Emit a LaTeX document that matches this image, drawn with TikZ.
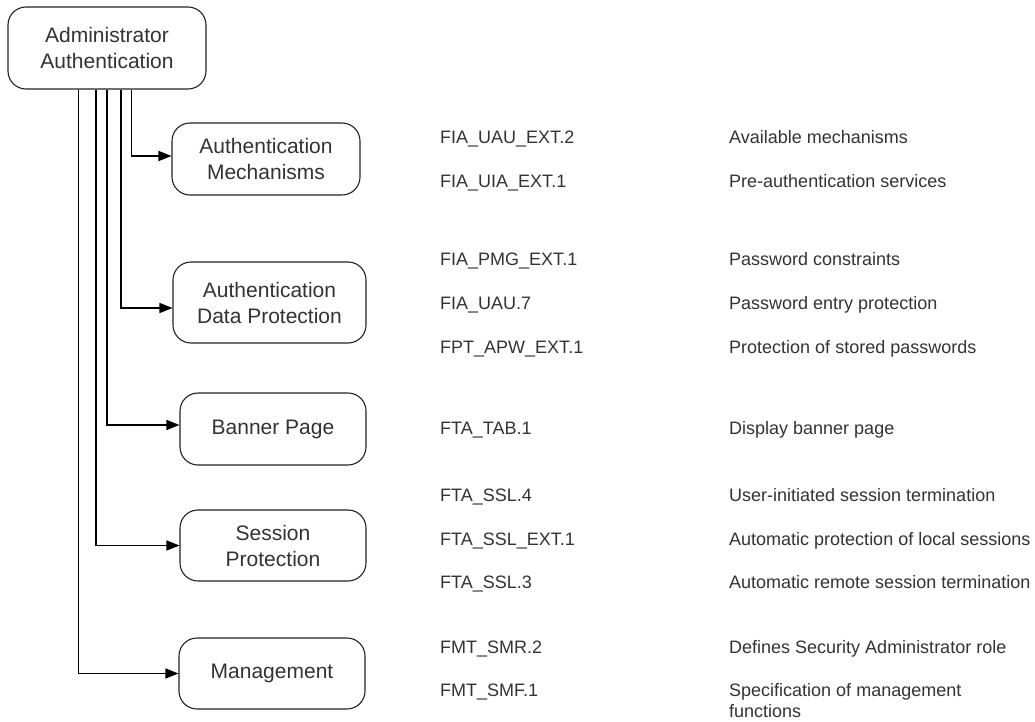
\documentclass[tikz,border=0pt]{standalone}
\usepackage{fontspec}
\setmainfont{Liberation Sans}
\usetikzlibrary{arrows.meta}
\definecolor{txt}{HTML}{333333}
\definecolor{bord}{HTML}{222222}
\tikzset{
  boxnode/.style={draw=bord, line width=1.1pt, rounded corners=18pt, align=center,
    text=txt, font=\fontsize{21}{26}\selectfont, inner sep=0pt},
  conn/.style={draw=black, line width=1.3pt, -{Triangle[length=13pt,width=10pt]}},
  code/.style={anchor=base west, inner sep=0pt, text=txt, font=\fontsize{18}{21}\selectfont},
  desc/.style={anchor=base west, inner sep=0pt, text=txt, font=\fontsize{18}{21}\selectfont}
}
\begin{document}
\begin{tikzpicture}[x=1pt,y=-1pt]
\useasboundingbox[fill=white] (0,0) rectangle (1035,722);
% boxes
\node[boxnode, minimum width=198pt, minimum height=82pt] (root) at (107,48) {Administrator\\Authentication};
\node[boxnode, minimum width=188pt, minimum height=72pt] (am) at (266,159) {Authentication\\Mechanisms};
\node[boxnode, minimum width=193pt, minimum height=81pt] (adp) at (269.5,302.5) {Authentication\\Data Protection};
\node[boxnode, minimum width=186pt, minimum height=72pt] (bp) at (273,429) {Banner Page};
\node[boxnode, minimum width=186pt, minimum height=71pt] (sp) at (273,545.5) {Session\\Protection};
\node[boxnode, minimum width=186pt, minimum height=71pt] (mg) at (272,673.5) {Management};
% connectors
\draw[conn] ([xshift=24.5pt]root.south) |- ([yshift=3pt]am.west);
\draw[conn] ([xshift=14pt]root.south) |- ([yshift=-5.5pt]adp.west);
\draw[conn] ([xshift=0pt]root.south) |- ([yshift=4pt]bp.west);
\draw[conn] ([xshift=-11pt]root.south) |- (sp.west);
\draw[conn] ([xshift=-28.5pt]root.south) |- (mg.west);
% codes
\node[code] (c1) at (440,143.5) {FIA\_UAU\_EXT.2};
\node[code] (c2) at (440,187.5) {FIA\_UIA\_EXT.1};
\node[code] (c3) at (440,265.5) {FIA\_PMG\_EXT.1};
\node[code] (c4) at (440,309.5) {FIA\_UAU.7};
\node[code] (c5) at (440,353.5) {FPT\_APW\_EXT.1};
\node[code] (c6) at (440,434.5) {FTA\_TAB.1};
\node[code] (c7) at (440,501.5) {FTA\_SSL.4};
\node[code] (c8) at (440,545.5) {FTA\_SSL\_EXT.1};
\node[code] (c9) at (440,588.5) {FTA\_SSL.3};
\node[code] (c10) at (440,653.5) {FMT\_SMR.2};
\node[code] (c11) at (440,696.5) {FMT\_SMF.1};
% descriptions
\node[desc] (d1) at (729,143.5) {Available mechanisms};
\node[desc] (d2) at (729,187.5) {Pre-authentication services};
\node[desc] (d3) at (729,265.5) {Password constraints};
\node[desc] (d4) at (729,309.5) {Password entry protection};
\node[desc] (d5) at (729,353.5) {Protection of stored passwords};
\node[desc] (d6) at (729,434.5) {Display banner page};
\node[desc] (d7) at (729,501.5) {User-initiated session termination};
\node[desc] (d8) at (729,545.5) {Automatic protection of local sessions};
\node[desc] (d9) at (729,588.5) {Automatic remote session termination};
\node[desc] (d10) at (729,653.5) {Defines Security Administrator role};
\node[desc] (d11) at (729,696.5) {\parbox[t]{280pt}{\raggedright Specification of management\\functions}};
\end{tikzpicture}
\end{document}
